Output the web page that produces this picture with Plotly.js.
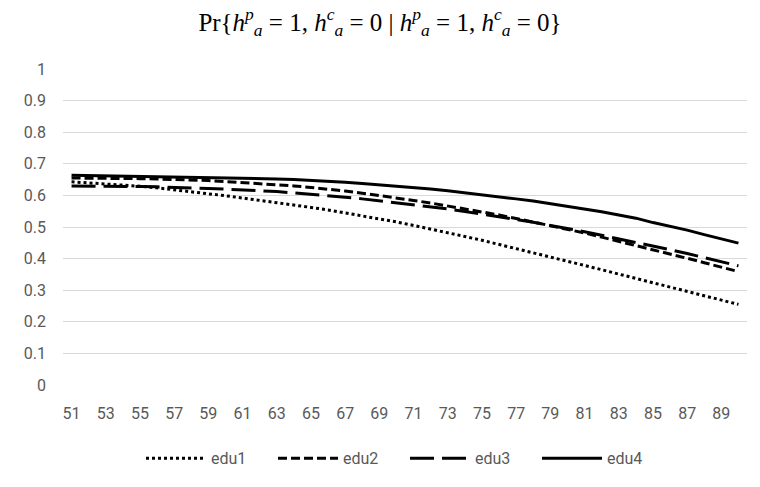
<!DOCTYPE html>
<html>
<head>
<meta charset="utf-8">
<script src="https://cdn.plot.ly/plotly-3.0.1.min.js"></script>
<style>
  html, body { margin: 0; padding: 0; background: #fff; }
  #chart { width: 760px; height: 487px; }
</style>
</head>
<body>
<div id="chart"></div>
<script>
const ages = [];
for (let a = 51; a <= 90; a++) ages.push(String(a));

const edu1 = [0.643, 0.640, 0.637, 0.633, 0.629, 0.624, 0.617, 0.611, 0.605, 0.599,
              0.592, 0.585, 0.578, 0.570, 0.562, 0.554, 0.545, 0.536, 0.526, 0.516,
              0.505, 0.494, 0.482, 0.470, 0.458, 0.445, 0.432, 0.419, 0.405, 0.392,
              0.378, 0.365, 0.351, 0.337, 0.323, 0.309, 0.295, 0.281, 0.268, 0.255];
const edu2 = [0.655, 0.655, 0.655, 0.654, 0.653, 0.652, 0.651, 0.649, 0.647, 0.644,
              0.641, 0.638, 0.634, 0.630, 0.625, 0.620, 0.614, 0.607, 0.600, 0.592,
              0.584, 0.576, 0.567, 0.558, 0.548, 0.538, 0.527, 0.516, 0.505, 0.493,
              0.481, 0.468, 0.455, 0.442, 0.429, 0.415, 0.401, 0.387, 0.373, 0.359];
const edu3 = [0.630, 0.630, 0.629, 0.629, 0.628, 0.627, 0.626, 0.624, 0.622, 0.620,
              0.618, 0.615, 0.612, 0.608, 0.604, 0.599, 0.594, 0.589, 0.583, 0.577,
              0.570, 0.564, 0.557, 0.549, 0.541, 0.533, 0.524, 0.515, 0.505, 0.496,
              0.485, 0.474, 0.463, 0.452, 0.440, 0.428, 0.416, 0.403, 0.390, 0.377];
const edu4 = [0.664, 0.663, 0.663, 0.662, 0.662, 0.661, 0.660, 0.659, 0.658, 0.657,
              0.655, 0.654, 0.652, 0.650, 0.648, 0.645, 0.642, 0.638, 0.634, 0.630,
              0.625, 0.620, 0.615, 0.609, 0.603, 0.596, 0.589, 0.582, 0.574, 0.566,
              0.557, 0.548, 0.538, 0.528, 0.514, 0.503, 0.490, 0.476, 0.462, 0.449];

const seriesNames = ["edu1", "edu2", "edu3", "edu4"];
const seriesValues = [edu1, edu2, edu3, edu4];
const dashes = ["3px,3px", "9px,4px", "24px,8px", "solid"];

const tickLabels = ages.filter((a, i) => i % 2 === 0);

const data = seriesNames.map((name, i) => ({
    name: name,
    x: ages,
    y: seriesValues[i],
    type: 'scatter',
    mode: 'lines',
    line: { color: '#000000', width: 3, dash: dashes[i] },
}));

const axisFont = { family: 'Roboto, "Open Sans", sans-serif', size: 16, color: '#595959' };

const layout = {
    width: 760,
    height: 487,
    margin: { l: 63, r: 13, t: 69, b: 97 },
    paper_bgcolor: '#ffffff',
    plot_bgcolor: '#ffffff',
    showlegend: true,
    title: {
        text: 'Pr{<i>h</i><sup><i>p</i></sup><sub><i>a</i></sub> = 1, <i>h</i><sup><i>c</i></sup><sub><i>a</i></sub> = 0 | ' +
              '<i>h</i><sup><i>p</i></sup><sub><i>a</i></sub> = 1, <i>h</i><sup><i>c</i></sup><sub><i>a</i></sub> = 0}',
        font: { family: '"Liberation Serif", "DejaVu Serif", serif', size: 25, color: '#000000' },
        x: 0.5,
        xanchor: 'center',
        y: 0.955,
        yanchor: 'middle',
    },
    xaxis: {
        type: 'category',
        range: [-0.5, ages.length - 0.5],
        tickmode: 'array',
        tickvals: tickLabels,
        ticktext: tickLabels,
        tickfont: axisFont,
        ticks: '',
        ticklabelstandoff: 17,
        showgrid: false,
        showline: false,
        zeroline: false,
        fixedrange: true,
    },
    yaxis: {
        range: [0, 1],
        dtick: 0.1,
        tick0: 0,
        tickfont: axisFont,
        ticks: '',
        ticklabelstandoff: 16,
        showgrid: true,
        gridcolor: '#d9d9d9',
        gridwidth: 1,
        zeroline: false,
        showline: false,
        fixedrange: true,
    },
    legend: {
        orientation: 'h',
        x: 0.5,
        xanchor: 'center',
        y: -0.232,
        yanchor: 'middle',
        font: axisFont,
        itemwidth: 60,
        entrywidth: 57,
        bgcolor: 'rgba(0,0,0,0)',
    },
};

Plotly.newPlot('chart', data, layout, { displayModeBar: false, staticPlot: true });
</script>
</body>
</html>
